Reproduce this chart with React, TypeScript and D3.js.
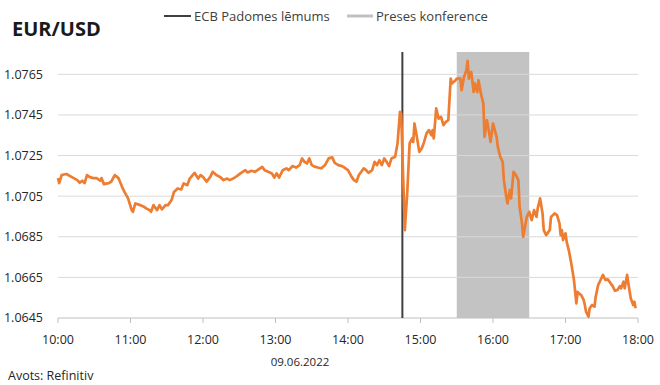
import React from "react";
import * as d3 from "d3";

const title = "EUR/USD";
const legendLabels = ["ECB Padomes lēmums", "Preses konference"];
const dateLabel = "09.06.2022";
const sourceLabel = "Avots: Refinitiv";

const xTicks = ["10:00", "11:00", "12:00", "13:00", "14:00", "15:00", "16:00", "17:00", "18:00"];
const yTicks = [1.0645, 1.0665, 1.0685, 1.0705, 1.0725, 1.0745, 1.0765];

const decisionTime = "14:45";
const pressStart = "15:30";
const pressEnd = "16:30";

const times = [
  "10:00", "10:01", "10:03", "10:07", "10:10", "10:13", "10:16", "10:18", "10:20", "10:22",
  "10:24", "10:26", "10:29", "10:32", "10:35", "10:36", "10:38", "10:42", "10:44", "10:47",
  "10:50", "10:53", "10:55", "10:58", "11:01", "11:02", "11:04", "11:08", "11:11", "11:13",
  "11:16", "11:17", "11:19", "11:22", "11:24", "11:26", "11:29", "11:31", "11:34", "11:36",
  "11:39", "11:42", "11:44", "11:47", "11:49", "11:53", "11:56", "11:58", "12:00", "12:03",
  "12:06", "12:08", "12:11", "12:14", "12:17", "12:20", "12:22", "12:25", "12:28", "12:31",
  "12:35", "12:37", "12:40", "12:43", "12:46", "12:49", "12:51", "12:54", "12:57", "12:59",
  "13:01", "13:03", "13:06", "13:09", "13:11", "13:14", "13:17", "13:20", "13:22", "13:24",
  "13:26", "13:28", "13:30", "13:33", "13:35", "13:38", "13:41", "13:44", "13:47", "13:49",
  "13:52", "13:55", "13:57", "14:00", "14:03", "14:05", "14:07", "14:09", "14:11", "14:13",
  "14:15", "14:17", "14:20", "14:22", "14:24", "14:26", "14:28", "14:30", "14:32", "14:34",
  "14:36", "14:39", "14:41", "14:43", "14:44", "14:46", "14:47", "14:49", "14:51", "14:53",
  "14:54", "14:55", "14:57", "14:59", "15:01", "15:03", "15:05", "15:07", "15:09", "15:10",
  "15:11", "15:13", "15:15", "15:17", "15:19", "15:21", "15:23", "15:25", "15:26", "15:29",
  "15:30", "15:33", "15:34", "15:36", "15:38", "15:39", "15:40", "15:42", "15:44", "15:45",
  "15:47", "15:48", "15:50", "15:52", "15:53", "15:55", "15:56", "15:58", "16:00", "16:03",
  "16:04", "16:06", "16:08", "16:09", "16:11", "16:12", "16:14", "16:15", "16:17", "16:19",
  "16:21", "16:22", "16:24", "16:25", "16:27", "16:28", "16:30", "16:32", "16:34", "16:36",
  "16:37", "16:39", "16:41", "16:42", "16:44", "16:47", "16:48", "16:51", "16:53", "16:55",
  "16:56", "16:57", "16:58", "17:00", "17:01", "17:03", "17:05", "17:07", "17:09", "17:10",
  "17:11", "17:13", "17:15", "17:16", "17:17", "17:19", "17:20", "17:22", "17:24", "17:25",
  "17:27", "17:29", "17:31", "17:33", "17:35", "17:37", "17:39", "17:41", "17:43", "17:45",
  "17:46", "17:48", "17:49", "17:51", "17:52", "17:54", "17:56", "17:57", "17:58",
];

const rates = [
  1.07139, 1.07114, 1.07154, 1.07159, 1.07149, 1.07139, 1.07129, 1.07116, 1.07126, 1.07114,
  1.07154, 1.07145, 1.07139, 1.07139, 1.07126, 1.07139, 1.07109, 1.07114, 1.07121, 1.07154,
  1.07139, 1.07096, 1.07071, 1.07039, 1.06981, 1.06973, 1.07014, 1.07006, 1.06998, 1.0699,
  1.06981, 1.06973, 1.07006, 1.06981, 1.07006, 1.06985, 1.07006, 1.07006, 1.07031, 1.07071,
  1.07088, 1.07083, 1.07113, 1.07104, 1.07137, 1.07165, 1.07137, 1.07154, 1.07145, 1.07121,
  1.07145, 1.0717, 1.07154, 1.07145, 1.07129, 1.07137, 1.07129, 1.07137, 1.07149, 1.07162,
  1.07178, 1.07167, 1.07175, 1.0717, 1.07182, 1.07194, 1.07178, 1.0717, 1.07162, 1.07142,
  1.07162, 1.07142, 1.07178, 1.07187, 1.07178, 1.07198, 1.07191, 1.07203, 1.07236, 1.07219,
  1.07211, 1.07236, 1.07203, 1.07194, 1.07191, 1.07187, 1.07203, 1.07236, 1.07241, 1.07214,
  1.07203, 1.07198, 1.07191, 1.07178, 1.07145, 1.07129, 1.07121, 1.07154, 1.0717, 1.07187,
  1.07178, 1.07165, 1.07178, 1.07219, 1.07203, 1.07227, 1.07203, 1.07236, 1.07219, 1.07198,
  1.07236, 1.07244, 1.0731, 1.07465, 1.07457, 1.0708, 1.06883, 1.07063, 1.0731, 1.07334,
  1.07317, 1.07408, 1.07342, 1.07268, 1.07285, 1.07317, 1.07359, 1.07375, 1.0735, 1.07375,
  1.07334, 1.07482, 1.07432, 1.0744, 1.074, 1.07416, 1.07424, 1.07629, 1.07605, 1.07621,
  1.07629, 1.07629, 1.07572, 1.07637, 1.0767, 1.07716, 1.07629, 1.07662, 1.07563, 1.07605,
  1.07563, 1.07621, 1.07556, 1.07506, 1.07342, 1.07424, 1.07391, 1.07317, 1.07408, 1.07342,
  1.07293, 1.07244, 1.07219, 1.07129, 1.07047, 1.07014, 1.0708, 1.07039, 1.0717, 1.07154,
  1.07129, 1.06998, 1.06916, 1.0685, 1.06916, 1.06948, 1.06973, 1.06932, 1.06981, 1.06948,
  1.0699, 1.07039, 1.06965, 1.06883, 1.06858, 1.06883, 1.06948, 1.06965, 1.06957, 1.06916,
  1.06858, 1.06883, 1.06834, 1.06867, 1.06825, 1.06776, 1.06711, 1.06637, 1.06522, 1.06579,
  1.06572, 1.06563, 1.06539, 1.06514, 1.06481, 1.06456, 1.06498, 1.06514, 1.06506, 1.06555,
  1.06612, 1.06637, 1.06662, 1.06637, 1.0664, 1.06624, 1.06607, 1.06584, 1.06588, 1.06607,
  1.06596, 1.06629, 1.06596, 1.06662, 1.06621, 1.06547, 1.06514, 1.0653, 1.06498,
];

const toMin = (s: string) => {
  const [h, m] = s.split(":").map(Number);
  return h * 60 + m;
};

const FONT = "'Open Sans', 'DejaVu Sans', sans-serif";

export default function App() {
  const W = 660;
  const H = 385;
  const x = d3.scaleLinear().domain([toMin(xTicks[0]), toMin(xTicks[xTicks.length - 1])]).range([58, 638]);
  const y = d3.scaleLinear().domain([1.0645, 1.0776]).range([318, 52]);
  const data = times.map((t, i) => ({ t: toMin(t), v: rates[i] }));
  const line = d3
    .line<{ t: number; v: number }>()
    .x((d) => x(d.t))
    .y((d) => y(d.v));
  const [y0, y1] = y.range();
  const fmt = d3.format(".4f");

  return (
    <svg
      width={W}
      height={H}
      style={{ position: "absolute", left: 0, top: 0, background: "#fff" }}
      fontFamily={FONT}
    >
      <rect x={0} y={0} width={W} height={H} fill="#fff" />
      {/* title */}
      <text x={12} y={36} fontSize={20} fontWeight={700} fill="#1a1a1a">
        {title}
      </text>
      {/* legend */}
      <line x1={164} x2={191} y1={16} y2={16} stroke="#404040" strokeWidth={2} />
      <text x={194} y={20.5} fontSize={13} fill="#404040">
        {legendLabels[0]}
      </text>
      <line x1={347} x2={373} y1={16} y2={16} stroke="#c0c0c0" strokeWidth={3} />
      <text x={376} y={20.5} fontSize={13} fill="#404040">
        {legendLabels[1]}
      </text>

      {/* press conference band */}
      <rect
        x={x(toMin(pressStart))}
        y={y1}
        width={x(toMin(pressEnd)) - x(toMin(pressStart))}
        height={y0 - y1}
        fill="#c3c3c3"
      />

      {/* gridlines */}
      {yTicks.map((v, i) => (
        <line
          key={v}
          x1={x.range()[0]}
          x2={x.range()[1]}
          y1={y(v)}
          y2={y(v)}
          stroke={i === 0 ? "#bfbfbf" : "#d9d9d9"}
          strokeWidth={1}
        />
      ))}
      {/* x ticks */}
      {xTicks.map((t) => (
        <line key={t} x1={x(toMin(t))} x2={x(toMin(t))} y1={y0} y2={y0 + 5} stroke="#bfbfbf" />
      ))}

      {/* ECB decision line */}
      <line
        x1={x(toMin(decisionTime))}
        x2={x(toMin(decisionTime))}
        y1={y1}
        y2={y0}
        stroke="#404040"
        strokeWidth={2}
      />

      {/* series */}
      <path d={line(data) || ""} fill="none" stroke="#ed7d31" strokeWidth={2.7} strokeLinejoin="round" />

      {/* y labels */}
      {yTicks.map((v) => (
        <text key={v} x={43} y={y(v)} dy="0.35em" textAnchor="end" fontSize={12.5} fill="#262626">
          {fmt(v)}
        </text>
      ))}
      {/* x labels */}
      {xTicks.map((t) => (
        <text key={t} x={x(toMin(t))} y={344} textAnchor="middle" fontSize={12.5} fill="#262626">
          {t}
        </text>
      ))}
      <text x={300} y={366} textAnchor="middle" fontSize={11.5} fill="#262626">
        {dateLabel}
      </text>
      <text x={8} y={380} fontSize={12.5} fill="#262626">
        {sourceLabel}
      </text>
    </svg>
  );
}
